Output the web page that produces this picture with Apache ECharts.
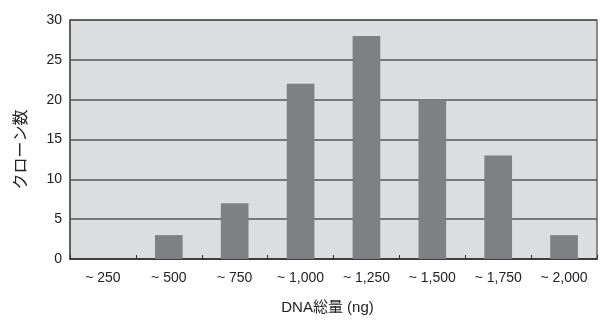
<!DOCTYPE html>
<html><head><meta charset="utf-8">
<script src="https://cdn.jsdelivr.net/npm/echarts@6/dist/echarts.min.js"></script>
<style>html,body{margin:0;padding:0;background:#fff}#c{width:602px;height:320px}</style>
</head><body><div id="c"></div>
<script>
const categories = ['~ 250','~ 500','~ 750','~ 1,000','~ 1,250','~ 1,500','~ 1,750','~ 2,000'];
const cloneCounts = [0, 3, 7, 22, 28, 20, 13, 3];
const yTicks = [0, 5, 10, 15, 20, 25, 30];
const xName = 'DNA総量 (ng)';
const yName = 'クローン数';

const font = '"Liberation Sans", "Noto Sans CJK JP", sans-serif';
const chart = echarts.init(document.getElementById('c'));
chart.setOption({
  animation: false,
  grid: {left: 70, right: 5, top: 20, bottom: 59, show: true, backgroundColor: '#dcdddf', borderColor: '#6a6a6a', borderWidth: 1.5},
  xAxis: {
    type: 'category', data: categories,
    name: xName, nameLocation: 'middle', nameGap: 41,
    nameTextStyle: {fontFamily: font, fontSize: 15, color: '#222', padding: [0, 12, 0, 0]},
    axisLine: {lineStyle: {color: '#333', width: 1.5}},
    axisTick: {show: true, inside: true, length: 4, lineStyle: {color: '#333'}},
    axisLabel: {fontFamily: font, fontSize: 14, color: '#222', margin: 12}
  },
  yAxis: {
    type: 'value', min: yTicks[0], max: yTicks[yTicks.length-1], interval: 5,
    name: yName, nameLocation: 'middle', nameGap: 40, nameRotate: 90,
    nameTextStyle: {fontFamily: font, fontSize: 16, color: '#222', padding: [0, 20, 0, 0]},
    axisLine: {show: true, lineStyle: {color: '#555', width: 1.5}},
    axisTick: {show: false},
    axisLabel: {fontFamily: font, fontSize: 14, color: '#222', margin: 8},
    splitLine: {lineStyle: {color: '#555', width: 1.5}}
  },
  series: [{
    type: 'bar', data: cloneCounts, barWidth: '42%',
    itemStyle: {color: '#7f8083'}
  }]
});
</script></body></html>
